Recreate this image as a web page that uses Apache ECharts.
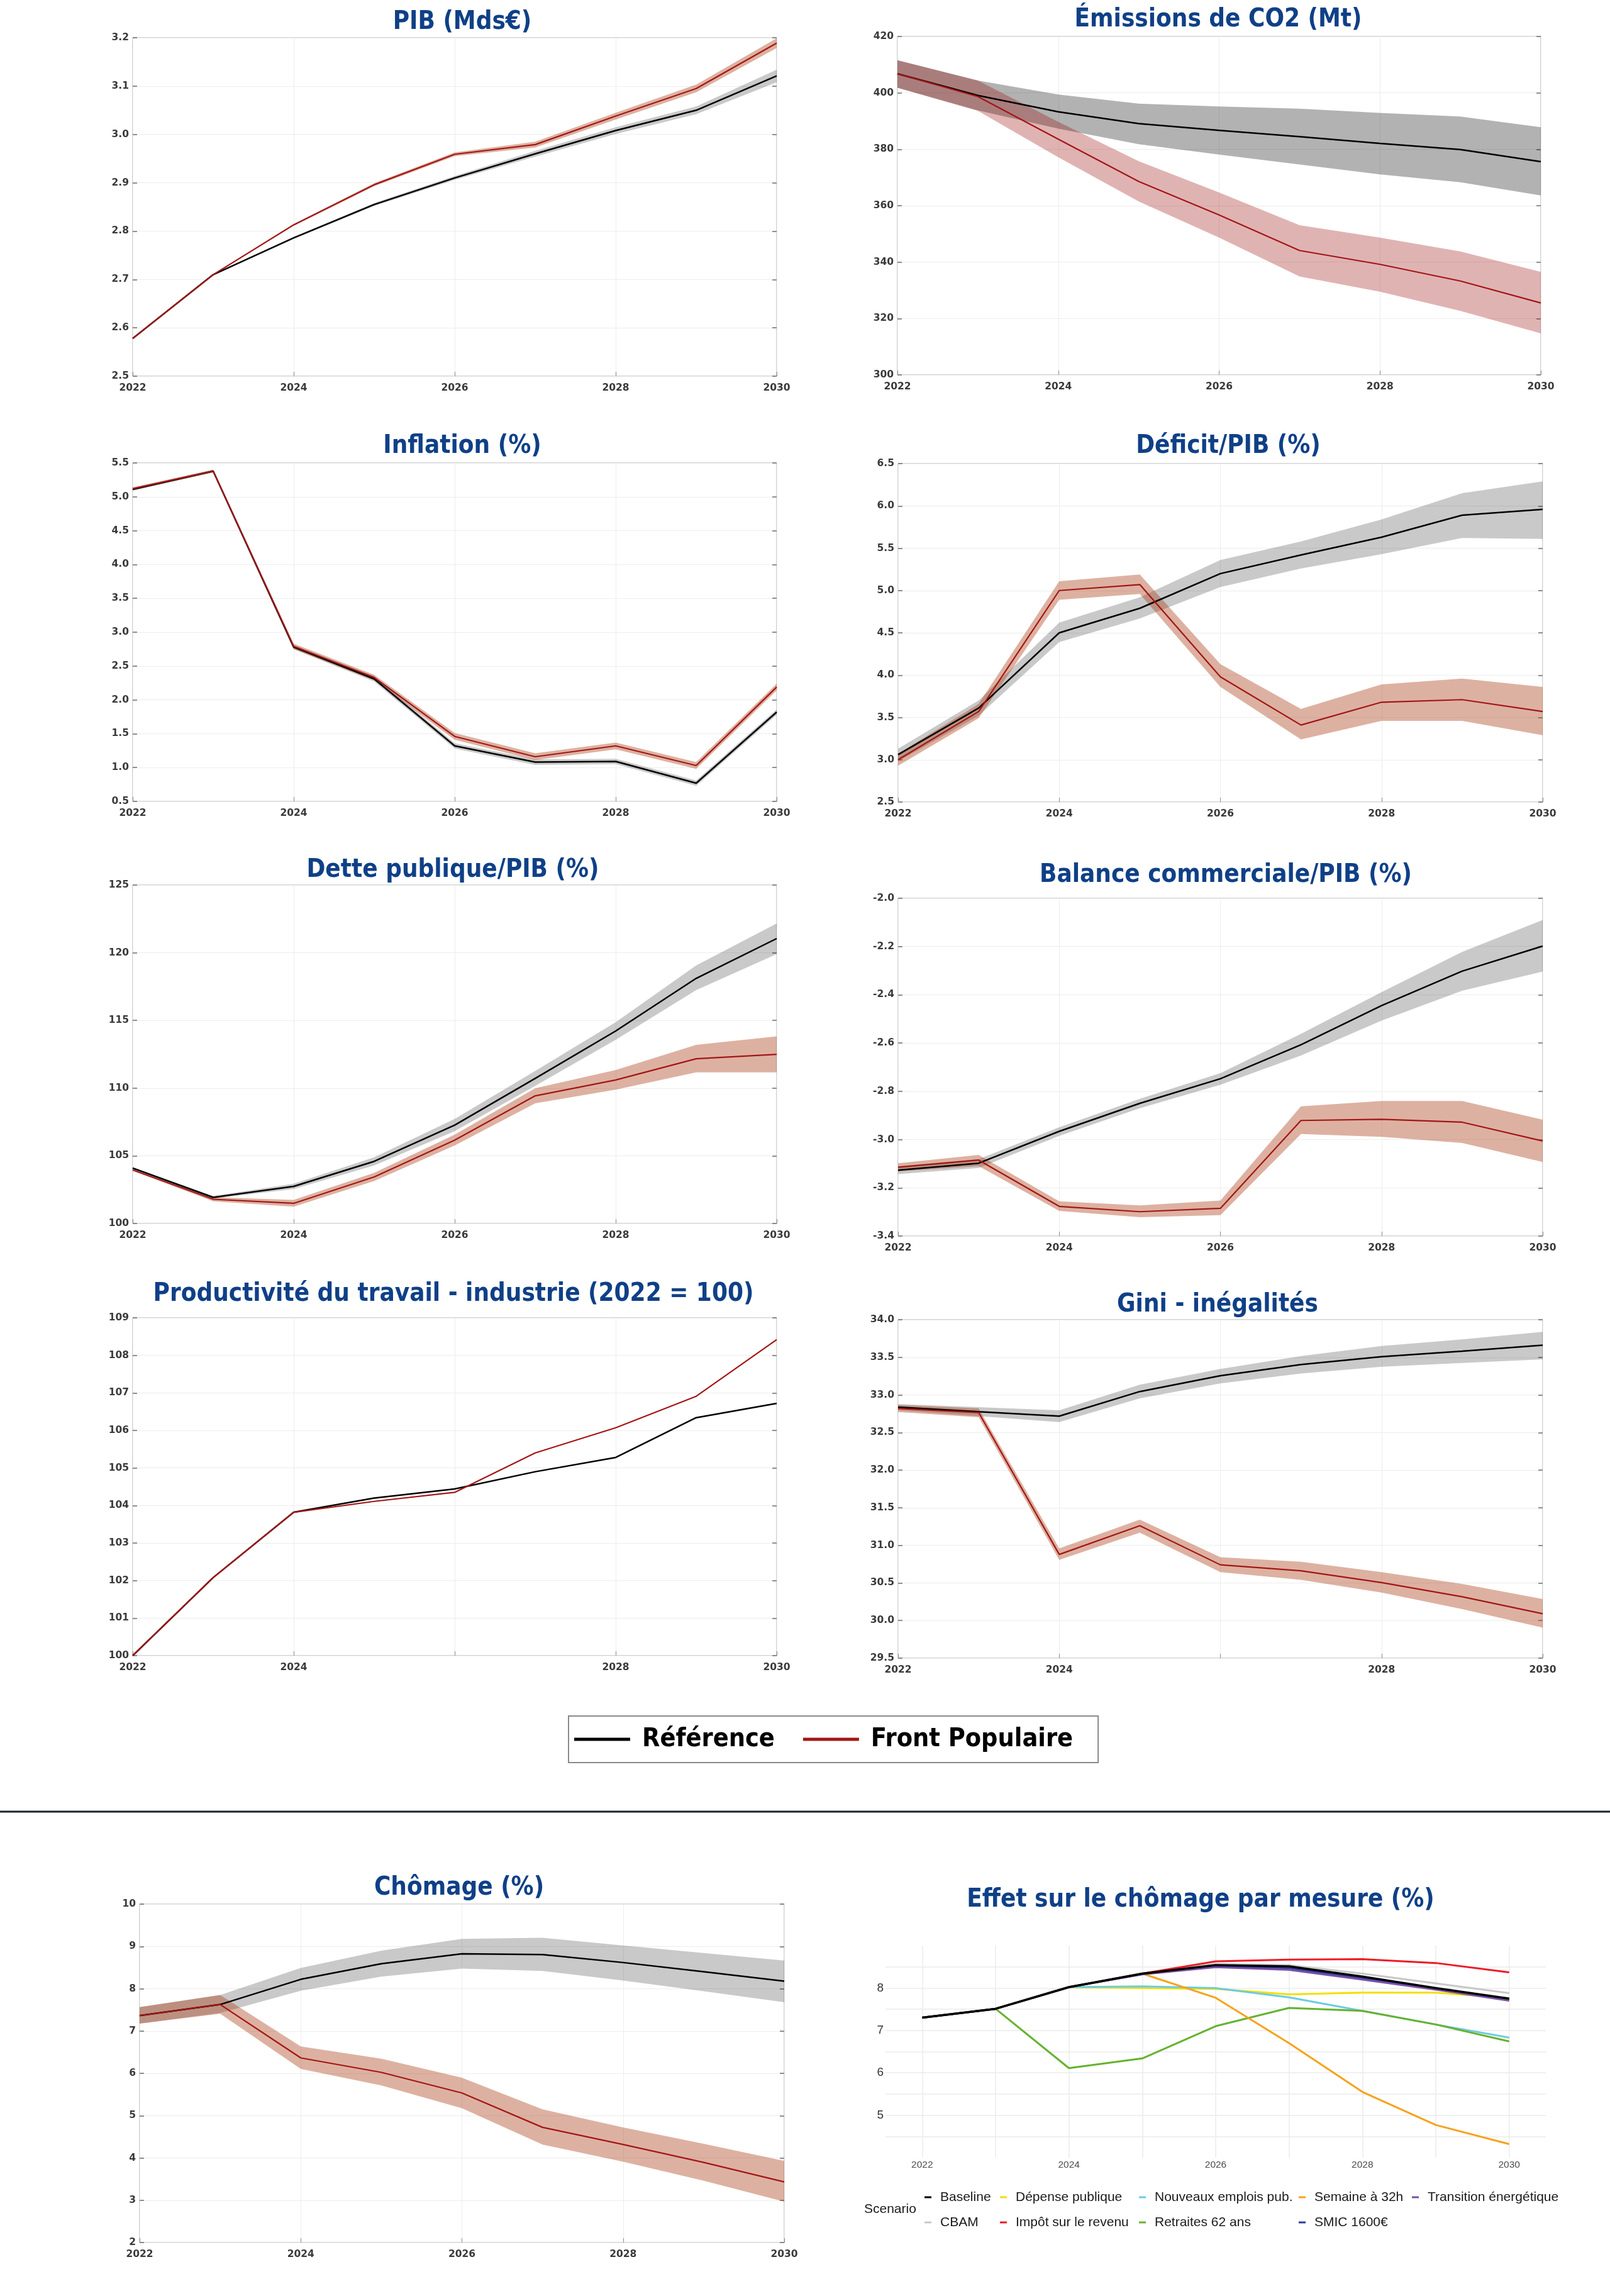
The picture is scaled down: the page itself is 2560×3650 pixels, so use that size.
<!DOCTYPE html>
<html>
<head>
<meta charset="utf-8">
<script src="https://cdn.jsdelivr.net/npm/echarts@6/dist/echarts.min.js"></script>
<style>
  html, body { margin: 0; padding: 0; background: #fff; }
  #main { width: 2560px; height: 3650px; }
</style>
</head>
<body>
<div id="main"></div>
<script>
  // années
  var years = ['2022', '2023', '2024', '2025', '2026', '2027', '2028', '2029', '2030'];
  var yearNums = [2022, 2023, 2024, 2025, 2026, 2027, 2028, 2029, 2030];

  // PIB (Mds€)
  var pibRef   = [2.578, 2.710, 2.786, 2.855, 2.910, 2.960, 3.008, 3.050, 3.121];
  var pibRefLo = [2.577, 2.709, 2.784, 2.852, 2.906, 2.954, 3.001, 3.042, 3.108];
  var pibRefHi = [2.579, 2.711, 2.788, 2.858, 2.914, 2.966, 3.015, 3.058, 3.134];
  var pibFp    = [2.578, 2.710, 2.813, 2.896, 2.959, 2.979, 3.038, 3.095, 3.189];
  var pibFpLo  = [2.577, 2.709, 2.811, 2.893, 2.955, 2.973, 3.031, 3.087, 3.179];
  var pibFpHi  = [2.579, 2.711, 2.815, 2.899, 2.963, 2.985, 3.045, 3.103, 3.199];

  // Emissions de CO2 (Mt)
  var co2Ref   = [406.8, 399.1, 393.3, 389.1, 386.7, 384.5, 382.1, 379.9, 375.6];
  var co2RefLo = [401.8, 393.8, 387.3, 381.8, 378.1, 374.6, 371.1, 368.3, 363.6];
  var co2RefHi = [411.6, 404.4, 399.4, 396.2, 395.2, 394.4, 392.9, 391.6, 387.8];
  var co2Fp    = [406.8, 398.7, 383.6, 368.6, 356.7, 344.1, 339.2, 333.3, 325.5];
  var co2FpLo  = [401.8, 393.6, 377.2, 361.5, 348.7, 334.9, 329.5, 322.7, 314.7];
  var co2FpHi  = [411.6, 404.4, 389.7, 375.8, 364.7, 353.1, 348.7, 343.8, 336.5];

  // Inflation (%)
  var infRef   = [5.11, 5.38, 2.78, 2.31, 1.32, 1.08, 1.09, 0.77, 1.82];
  var infRefLo = [5.09, 5.36, 2.75, 2.27, 1.28, 1.04, 1.05, 0.73, 1.78];
  var infRefHi = [5.13, 5.40, 2.81, 2.35, 1.36, 1.12, 1.13, 0.81, 1.86];
  var infFp    = [5.12, 5.38, 2.79, 2.33, 1.46, 1.16, 1.32, 1.03, 2.19];
  var infFpLo  = [5.10, 5.36, 2.75, 2.29, 1.41, 1.11, 1.27, 0.98, 2.14];
  var infFpHi  = [5.14, 5.40, 2.83, 2.37, 1.51, 1.21, 1.37, 1.08, 2.24];

  // Déficit/PIB (%)
  var defRef   = [3.06, 3.61, 4.50, 4.79, 5.20, 5.42, 5.63, 5.89, 5.96];
  var defRefLo = [2.98, 3.52, 4.39, 4.67, 5.04, 5.26, 5.43, 5.62, 5.61];
  var defRefHi = [3.13, 3.70, 4.62, 4.92, 5.36, 5.58, 5.84, 6.15, 6.29];
  var defFp    = [3.00, 3.57, 5.00, 5.07, 3.98, 3.41, 3.68, 3.71, 3.57];
  var defFpLo  = [2.93, 3.49, 4.89, 4.96, 3.86, 3.24, 3.46, 3.46, 3.29];
  var defFpHi  = [3.07, 3.66, 5.11, 5.19, 4.13, 3.60, 3.89, 3.96, 3.86];

  // Dette publique/PIB (%)
  var detRef   = [104.09, 101.93, 102.74, 104.59, 107.27, 110.72, 114.22, 118.11, 121.05];
  var detRefLo = [104.04, 101.83, 102.54, 104.29, 106.82, 110.17, 113.57, 117.24, 119.90];
  var detRefHi = [104.14, 102.03, 102.94, 104.89, 107.72, 111.27, 114.87, 119.06, 122.16];
  var detFp    = [103.95, 101.79, 101.49, 103.44, 106.16, 109.43, 110.60, 112.17, 112.49];
  var detFpLo  = [103.90, 101.64, 101.24, 103.14, 105.76, 108.88, 109.89, 111.16, 111.16];
  var detFpHi  = [104.00, 101.94, 101.74, 103.74, 106.56, 109.99, 111.34, 113.20, 113.82];

  // Balance commerciale/PIB (%)
  var balRef   = [-3.127, -3.098, -2.966, -2.850, -2.748, -2.607, -2.445, -2.302, -2.198];
  var balRefLo = [-3.143, -3.118, -2.985, -2.870, -2.773, -2.652, -2.507, -2.383, -2.304];
  var balRefHi = [-3.110, -3.081, -2.949, -2.831, -2.725, -2.562, -2.389, -2.222, -2.090];
  var balFp    = [-3.115, -3.085, -3.277, -3.299, -3.285, -2.921, -2.916, -2.928, -3.006];
  var balFpLo  = [-3.132, -3.110, -3.296, -3.322, -3.313, -2.977, -2.989, -3.014, -3.093];
  var balFpHi  = [-3.098, -3.064, -3.256, -3.273, -3.253, -2.862, -2.840, -2.840, -2.918];

  // Productivité du travail - industrie
  var proRef = [100, 102.08, 103.82, 104.20, 104.44, 104.90, 105.28, 106.34, 106.72];
  var proFp  = [100, 102.08, 103.82, 104.11, 104.35, 105.40, 106.07, 106.91, 108.42];

  // Gini
  var giniRef   = [32.838, 32.777, 32.718, 33.045, 33.255, 33.404, 33.509, 33.582, 33.662];
  var giniRefLo = [32.795, 32.718, 32.639, 32.954, 33.154, 33.284, 33.375, 33.426, 33.473];
  var giniRefHi = [32.880, 32.838, 32.795, 33.136, 33.346, 33.517, 33.651, 33.738, 33.840];
  var giniFp    = [32.820, 32.766, 30.879, 31.260, 30.741, 30.661, 30.505, 30.316, 30.091];
  var giniFpLo  = [32.773, 32.704, 30.806, 31.169, 30.643, 30.541, 30.371, 30.153, 29.906];
  var giniFpHi  = [32.867, 32.820, 30.959, 31.343, 30.843, 30.781, 30.643, 30.487, 30.287];

  // Chômage (%)
  var choRef   = [7.365, 7.627, 8.222, 8.592, 8.826, 8.808, 8.619, 8.402, 8.177];
  var choRefLo = [7.176, 7.428, 7.951, 8.285, 8.474, 8.420, 8.195, 7.942, 7.681];
  var choRefHi = [7.564, 7.852, 8.492, 8.898, 9.178, 9.205, 9.024, 8.844, 8.664];
  var choFp    = [7.365, 7.627, 6.364, 6.022, 5.535, 4.723, 4.317, 3.894, 3.434];
  var choFpLo  = [7.176, 7.410, 6.103, 5.715, 5.174, 4.317, 3.912, 3.461, 2.965];
  var choFpHi  = [7.564, 7.852, 6.635, 6.346, 5.895, 5.147, 4.723, 4.335, 3.930];

  // Effet sur le chômage par mesure (%)
  var effBaseline   = [7.30, 7.51, 8.02, 8.34, 8.54, 8.51, 8.27, 8.00, 7.75];
  var effCbam       = [7.30, 7.51, 8.02, 8.34, 8.57, 8.54, 8.34, 8.11, 7.88];
  var effDepense    = [7.30, 7.51, 8.02, 8.00, 7.98, 7.85, 7.89, 7.89, 7.76];
  var effImpot      = [7.30, 7.51, 8.02, 8.34, 8.63, 8.67, 8.68, 8.59, 8.37];
  var effNouveaux   = [7.30, 7.51, 8.02, 8.04, 8.00, 7.78, 7.46, 7.14, 6.83];
  var effRetraites  = [7.30, 7.51, 6.11, 6.34, 7.10, 7.53, 7.46, 7.14, 6.74];
  var effSemaine    = [7.30, 7.51, 8.02, 8.34, 7.77, 6.70, 5.55, 4.77, 4.32];
  var effSmic       = [7.30, 7.51, 8.02, 8.33, 8.51, 8.47, 8.23, 7.98, 7.73];
  var effTransition = [7.30, 7.51, 8.02, 8.32, 8.49, 8.43, 8.20, 7.96, 7.70];

  var TITLE_FONT = '"DejaVu Sans Condensed", "Liberation Sans Narrow", "DejaVu Sans", sans-serif';
  var TICK_FONT = '"DejaVu Sans", sans-serif';
  var GG_FONT = '"Liberation Sans", Arial, sans-serif';
  var TITLE_COLOR = '#0f4087';
  var GRAY_BAND = 'rgba(0,0,0,0.21)';
  var RED_BAND = 'rgba(170,60,20,0.4)';

  // panneaux (style Matlab)
  var panels = [
    { title: 'PIB (Mds€)', tx: 735, ty: 36, left: 211, top: 60, width: 1024, height: 538,
      min: 2.5, max: 3.2, interval: 0.1, dec: 1,
      ref: pibRef, refLo: pibRefLo, refHi: pibRefHi, fp: pibFp, fpLo: pibFpLo, fpHi: pibFpHi },
    { title: 'Émissions de CO2 (Mt)', tx: 1937, ty: 32, left: 1427, top: 58, width: 1023, height: 538,
      min: 300, max: 420, interval: 20, dec: 0,
      ref: co2Ref, refLo: co2RefLo, refHi: co2RefHi, fp: co2Fp, fpLo: co2FpLo, fpHi: co2FpHi,
      grayBand: 'rgba(0,0,0,0.3)', redBand: 'rgba(152,2,2,0.3)' },
    { title: 'Inflation (%)', tx: 735, ty: 710, left: 211, top: 736, width: 1024, height: 538,
      min: 0.5, max: 5.5, interval: 0.5, dec: 1,
      ref: infRef, refLo: infRefLo, refHi: infRefHi, fp: infFp, fpLo: infFpLo, fpHi: infFpHi },
    { title: 'Déficit/PIB (%)', tx: 1953, ty: 710, left: 1428, top: 737, width: 1025, height: 538,
      min: 2.5, max: 6.5, interval: 0.5, dec: 1,
      ref: defRef, refLo: defRefLo, refHi: defRefHi, fp: defFp, fpLo: defFpLo, fpHi: defFpHi },
    { title: 'Dette publique/PIB (%)', tx: 720, ty: 1384, left: 211, top: 1407, width: 1024, height: 538,
      min: 100, max: 125, interval: 5, dec: 0,
      ref: detRef, refLo: detRefLo, refHi: detRefHi, fp: detFp, fpLo: detFpLo, fpHi: detFpHi },
    { title: 'Balance commerciale/PIB (%)', tx: 1949, ty: 1392, left: 1428, top: 1428, width: 1025, height: 537,
      min: -3.4, max: -2.0, interval: 0.2, dec: 1,
      ref: balRef, refLo: balRefLo, refHi: balRefHi, fp: balFp, fpLo: balFpLo, fpHi: balFpHi },
    { title: 'Productivité du travail - industrie (2022 = 100)', tx: 721, ty: 2058, left: 211, top: 2095, width: 1024, height: 537,
      min: 100, max: 109, interval: 1, dec: 0, skip: ['2026'],
      ref: proRef, fp: proFp },
    { title: 'Gini - inégalités', tx: 1936, ty: 2075, left: 1428, top: 2098, width: 1025, height: 538,
      min: 29.5, max: 34, interval: 0.5, dec: 1, skip: ['2026'],
      ref: giniRef, refLo: giniRefLo, refHi: giniRefHi, fp: giniFp, fpLo: giniFpLo, fpHi: giniFpHi },
    { title: 'Chômage (%)', tx: 730, ty: 3002, left: 222, top: 3027, width: 1025, height: 538,
      min: 2, max: 10, interval: 1, dec: 0,
      ref: choRef, refLo: choRefLo, refHi: choRefHi, fp: choFp, fpLo: choFpLo, fpHi: choFpHi }
  ];

  var grid = [], xAxis = [], yAxis = [], series = [], graphic = [];

  function addBand(i, lo, hi, color, key) {
    series.push({
      name: key + '-lo', type: 'line', xAxisIndex: i, yAxisIndex: 2 * i,
      data: lo, stack: key, stackStrategy: 'all', symbol: 'none', silent: true,
      lineStyle: { opacity: 0 }, z: 1
    });
    series.push({
      name: key + '-hi', type: 'line', xAxisIndex: i, yAxisIndex: 2 * i,
      data: hi.map(function (h, k) { return +(h - lo[k]).toFixed(4); }),
      stack: key, stackStrategy: 'all', symbol: 'none', silent: true,
      lineStyle: { opacity: 0 }, areaStyle: { color: color, opacity: 1 }, z: 1
    });
  }

  panels.forEach(function (p, i) {
    grid.push({
      left: p.left, top: p.top, width: p.width, height: p.height,
      show: true, borderColor: '#a6a6a6', borderWidth: 1
    });
    xAxis.push({
      type: 'category', gridIndex: i, data: years, boundaryGap: false,
      axisLine: { show: false },
      axisTick: { show: true, inside: true, interval: 1, length: 7, lineStyle: { color: '#8c8c8c' } },
      axisLabel: {
        interval: 1, margin: 11, color: '#3a3a3a', fontFamily: TICK_FONT, fontWeight: 'bold', fontSize: 15.5,
        formatter: function (v) { return (p.skip && p.skip.indexOf(v) >= 0) ? '' : v; }
      },
      splitLine: { show: true, interval: 1, lineStyle: { color: '#ededed', width: 1 } }
    });
    yAxis.push({
      type: 'value', gridIndex: i, min: p.min, max: p.max, interval: p.interval,
      axisLine: { show: false },
      axisTick: { show: true, inside: true, length: 7, lineStyle: { color: '#6e6e6e', width: 1.5 } },
      axisLabel: {
        margin: 6, color: '#3a3a3a', fontFamily: TICK_FONT, fontWeight: 'bold', fontSize: 15.5,
        formatter: function (v) { return v.toFixed(p.dec); }
      },
      splitLine: { show: true, lineStyle: { color: '#ededed', width: 1 } }
    });
    // ticks à droite
    yAxis.push({
      type: 'value', gridIndex: i, position: 'right', min: p.min, max: p.max, interval: p.interval,
      axisLine: { show: false },
      axisTick: { show: true, inside: true, length: 7, lineStyle: { color: '#6e6e6e', width: 1.5 } },
      axisLabel: { show: false },
      splitLine: { show: false }
    });

    if (p.refLo) {
      addBand(i, p.refLo, p.refHi, p.grayBand || GRAY_BAND, 'ref' + i);
      addBand(i, p.fpLo, p.fpHi, p.redBand || RED_BAND, 'fp' + i);
    }
    series.push({
      name: 'Référence', type: 'line', xAxisIndex: i, yAxisIndex: 2 * i, data: p.ref,
      symbol: 'none', lineStyle: { color: '#000000', width: 2.5 }, itemStyle: { color: '#000000' }, z: 3
    });
    series.push({
      name: 'Front Populaire', type: 'line', xAxisIndex: i, yAxisIndex: 2 * i, data: p.fp,
      symbol: 'none', lineStyle: { color: '#a31515', width: 2.2 }, itemStyle: { color: '#a31515' }, z: 4
    });

    graphic.push({
      type: 'text', x: p.tx, y: p.ty,
      style: {
        text: p.title, fill: TITLE_COLOR, fontFamily: TITLE_FONT, fontWeight: 'bold', fontSize: 40,
        align: 'center', verticalAlign: 'middle', textAlign: 'center', textVerticalAlign: 'middle'
      }
    });
  });

  // graphique ggplot : effet par mesure
  var effIndex = panels.length;
  var scenarios = [
    { name: 'CBAM', data: effCbam, color: '#c8c8c8' },
    { name: 'Dépense publique', data: effDepense, color: '#f2e000' },
    { name: 'Impôt sur le revenu', data: effImpot, color: '#ee1c25' },
    { name: 'Nouveaux emplois pub.', data: effNouveaux, color: '#6ecbe0' },
    { name: 'Retraites 62 ans', data: effRetraites, color: '#66b22e' },
    { name: 'Semaine à 32h', data: effSemaine, color: '#f7a21b' },
    { name: 'SMIC 1600€', data: effSmic, color: '#2b3f98' },
    { name: 'Transition énergétique', data: effTransition, color: '#7b4fa8' },
    { name: 'Baseline', data: effBaseline, color: '#000000' }
  ];

  grid.push({ left: 1408, top: 3093, width: 1050, height: 337, show: false });
  xAxis.push({
    type: 'value', gridIndex: effIndex, min: 2021.5, max: 2030.5, interval: 0.5,
    axisLine: { show: false }, axisTick: { show: false },
    axisLabel: {
      margin: 4, color: '#4d4d4d', fontFamily: GG_FONT, fontSize: 15.5,
      formatter: function (v) { return (Number.isInteger(v) && v % 2 === 0) ? String(v) : ''; }
    },
    splitLine: { show: true, lineStyle: { color: ['rgba(0,0,0,0)', '#ebebeb'], width: 1.5 } }
  });
  yAxis.push({
    type: 'value', gridIndex: effIndex, min: 4, max: 9, interval: 0.5,
    axisLine: { show: false }, axisTick: { show: false },
    axisLabel: {
      margin: 3, color: '#333333', fontFamily: GG_FONT, fontSize: 19,
      showMinLabel: false, showMaxLabel: false,
      formatter: function (v) { return Number.isInteger(v) ? String(v) : ''; }
    },
    splitLine: { show: true, showMinLine: false, showMaxLine: false, lineStyle: { color: '#ebebeb', width: 1.5 } }
  });
  scenarios.forEach(function (s) {
    series.push({
      name: s.name, type: 'line', xAxisIndex: effIndex, yAxisIndex: 2 * effIndex,
      data: yearNums.map(function (y, k) { return [y, s.data[k]]; }),
      symbol: 'none', lineStyle: { color: s.color, width: s.name === 'Baseline' ? 3.5 : 3 },
      itemStyle: { color: s.color }, z: 3
    });
  });

  var legendCols = [
    { x: 1470, names: ['Baseline', 'CBAM'] },
    { x: 1590, names: ['Dépense publique', 'Impôt sur le revenu'] },
    { x: 1811, names: ['Nouveaux emplois pub.', 'Retraites 62 ans'] },
    { x: 2065, names: ['Semaine à 32h', 'SMIC 1600€'] },
    { x: 2245, names: ['Transition énergétique'] }
  ];

  var legend = [{
    data: ['Référence', 'Front Populaire'],
    left: 904, top: 2728, orient: 'horizontal',
    icon: 'rect', itemWidth: 89, itemHeight: 5, itemGap: 45,
    padding: [13, 40, 13, 9],
    borderColor: '#8a8a8a', borderWidth: 2, backgroundColor: '#fff',
    selectedMode: false,
    textStyle: {
      fontFamily: TITLE_FONT, fontWeight: 'bold', fontSize: 41, color: '#000',
      lineHeight: 48, padding: [0, 0, 0, 14]
    }
  }];
  legendCols.forEach(function (c) {
    legend.push({
      data: c.names, orient: 'vertical', left: c.x, top: 3481, padding: 0,
      itemGap: 16, icon: 'rect', itemWidth: 11, itemHeight: 3, selectedMode: false,
      textStyle: { fontFamily: GG_FONT, fontSize: 21, color: '#1a1a1a', lineHeight: 24, padding: [0, 0, 0, 9] }
    });
  });

  graphic.push({
    type: 'text', x: 1909, y: 3021,
    style: {
      text: 'Effet sur le chômage par mesure (%)', fill: TITLE_COLOR, fontFamily: TITLE_FONT,
      fontWeight: 'bold', fontSize: 40,
      align: 'center', verticalAlign: 'middle', textAlign: 'center', textVerticalAlign: 'middle'
    }
  });
  graphic.push({
    type: 'text', x: 1374, y: 3512,
    style: {
      text: 'Scenario', fill: '#1a1a1a', fontFamily: GG_FONT, fontSize: 21,
      align: 'left', verticalAlign: 'middle', textAlign: 'left', textVerticalAlign: 'middle'
    }
  });
  // séparateur
  graphic.push({
    type: 'line', shape: { x1: 0, y1: 2880, x2: 2560, y2: 2880 },
    style: { stroke: '#1c2130', lineWidth: 3 }
  });

  var chart = echarts.init(document.getElementById('main'));
  chart.setOption({
    animation: false,
    backgroundColor: '#ffffff',
    grid: grid,
    xAxis: xAxis,
    yAxis: yAxis,
    legend: legend,
    graphic: graphic,
    series: series
  });
</script>
</body>
</html>
